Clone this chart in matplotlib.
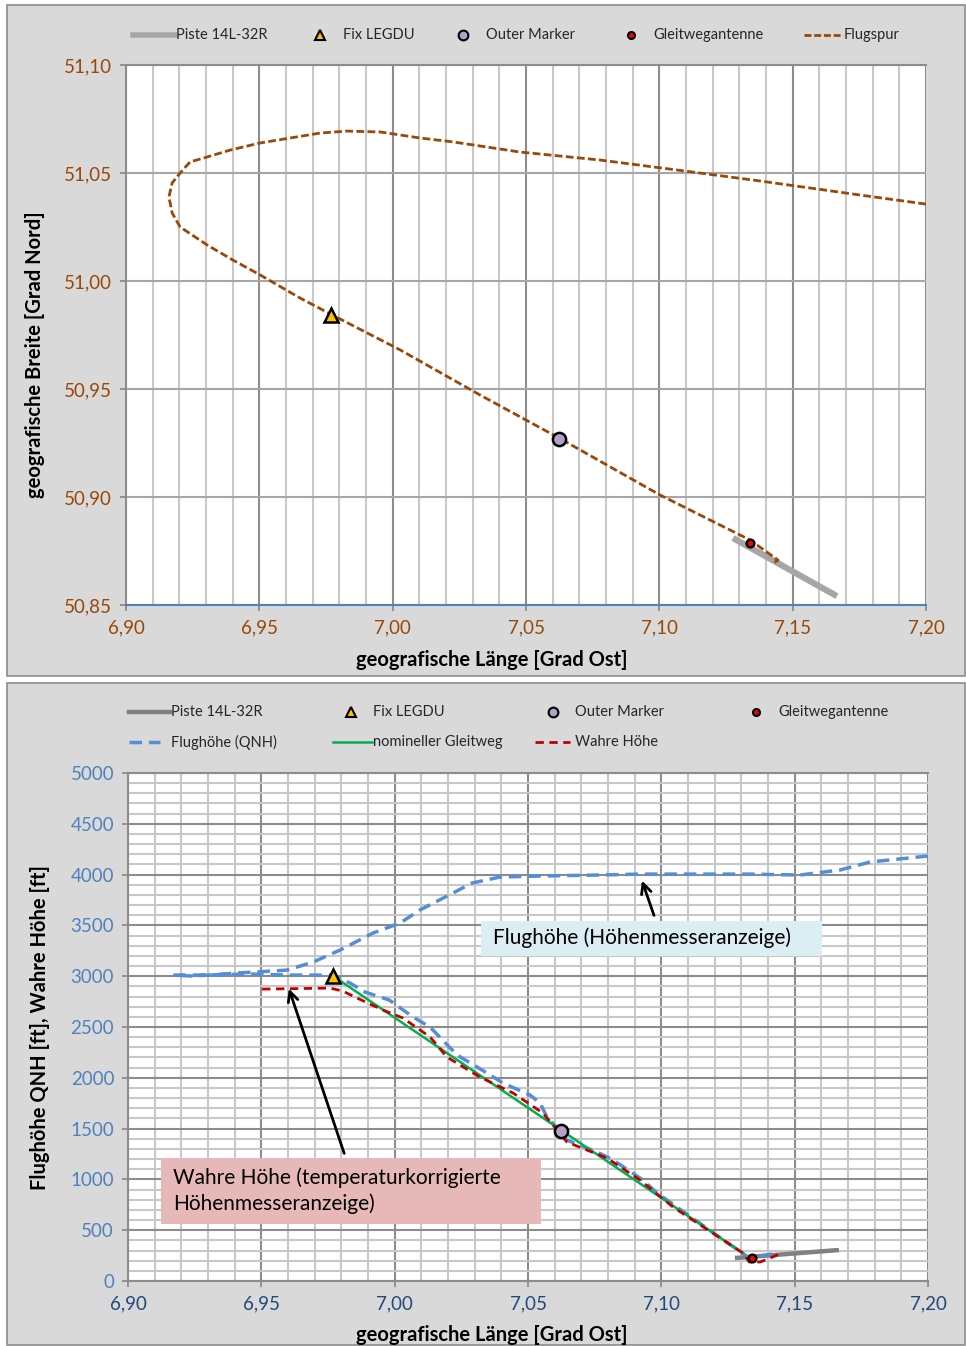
import numpy as np
import matplotlib.pyplot as plt
from matplotlib.lines import Line2D
from matplotlib.patches import Rectangle
from matplotlib.ticker import MultipleLocator, FuncFormatter

plt.rcParams['font.family'] = ['Lato', 'DejaVu Sans']

# --- data -------------------------------------------------------------
# flight track (time order, from the east)
track_lon = [7.2000, 7.1753, 7.1378, 7.1078, 7.0778, 7.0478, 7.0226, 7.0103,
             6.9953, 6.9829, 6.9728, 6.9503, 6.9390, 6.9304, 6.9240, 6.9203,
             6.9173, 6.9161, 6.9173, 6.9203, 6.9304, 6.9401, 6.9503, 6.9653,
             6.9773, 7.0028, 7.0328, 7.0624, 7.1003, 7.1340, 7.1445, 7.1423]
track_lat = [51.0356, 51.0398, 51.0463, 51.0512, 51.0560, 51.0597, 51.0644, 51.0662,
             51.0690, 51.0694, 51.0685, 51.0639, 51.0606, 51.0574, 51.0551, 51.0500,
             51.0454, 51.0389, 51.0315, 51.0250, 51.0167, 51.0097, 51.0028, 50.9921,
             50.9843, 50.9681, 50.9472, 50.9273, 50.9009, 50.8801, 50.8708, 50.8690]

# runway 14L-32R
rwy_lon = [7.1276, 7.1666]
rwy_lat = [50.8810, 50.8541]
rwy_alt = [226, 305]

# fixes
fix_lon, fix_lat, fix_alt = 6.977, 50.9843, 3000
om_lon, om_lat, om_alt = 7.0625, 50.9270, 1476
gs_lon, gs_lat, gs_alt = 7.134, 50.8787, 226

# indicated altitude (QNH), time order
qnh_lon = [7.2000, 7.1783, 7.1670, 7.1520, 7.1330, 7.1145, 7.0920, 7.0770,
           7.0545, 7.0395, 7.0290, 7.0219, 7.0095, 7.0020, 6.9919, 6.9795,
           6.9694, 6.9596, 6.9409, 6.9244, 6.9169, 6.9270, 6.9458, 6.9608,
           6.9769, 6.9833, 6.9889, 6.9980, 7.0069, 7.0133, 7.0180, 7.0234,
           7.0346, 7.0406, 7.0508, 7.0545, 7.0571, 7.0609, 7.0646, 7.0759,
           7.0819, 7.0931, 7.0984, 7.1100, 7.1330, 7.1434]
qnh_alt = [4183, 4124, 4045, 3996, 4005, 4005, 4005, 3996,
           3986, 3976, 3917, 3819, 3652, 3523, 3425, 3257,
           3139, 3060, 3031, 3001, 3011, 3011, 3021, 3011,
           3011, 2932, 2844, 2765, 2598, 2499, 2371, 2224,
           2047, 1948, 1830, 1752, 1614, 1506, 1387, 1269,
           1191, 994, 866, 650, 226, 275]

# nominal glide path
gp_lon = [6.977, 7.1306]
gp_alt = [3000, 275]

# true altitude
true_lon = [6.9503, 6.9758, 6.9806, 6.9859, 6.9956, 7.0031, 7.0133, 7.0196,
            7.0320, 7.0444, 7.0556, 7.0609, 7.0646, 7.0721, 7.0796, 7.0920,
            7.1044, 7.1306, 7.1330, 7.1370, 7.1400, 7.1450]
true_alt = [2873, 2883, 2853, 2785, 2667, 2588, 2401, 2204,
            2007, 1850, 1653, 1486, 1368, 1289, 1210, 994,
            728, 275, 187, 187, 216, 275]

# --- styles -------------------------------------------------------------
W, H = 966, 1346
BG = '#d9d9d9'
BROWN = '#984807'
BLUE = '#558ed5'
RED = '#c00000'
GREEN = '#00b050'
TICK_FS = 13.5
LABEL_FS = 14.5


def fx(x):
    return x / W


def fy(y):
    return 1 - y / H


fig = plt.figure(figsize=(W / 100, H / 100), dpi=100)
fig.patch.set_facecolor('white')
fig.patches.append(Rectangle((fx(7), fy(676)), fx(958), 671 / H, transform=fig.transFigure,
                             facecolor=BG, edgecolor='#8c8c8c', lw=1.2, zorder=-10))
fig.patches.append(Rectangle((fx(7), fy(1345)), fx(958), 662 / H, transform=fig.transFigure,
                             facecolor=BG, edgecolor='#8c8c8c', lw=1.2, zorder=-10))

comma = FuncFormatter(lambda v, p: f'{v:.2f}'.replace('.', ','))

# --- top: ground track ------------------------------------------------------
ax1 = fig.add_axes([fx(126), fy(605), 800 / W, 540 / H])
ax1.set_facecolor('white')
ax1.set_xlim(6.90, 7.20)
ax1.set_ylim(50.85, 51.10)
ax1.xaxis.set_major_locator(MultipleLocator(0.05))
ax1.xaxis.set_minor_locator(MultipleLocator(0.01))
ax1.yaxis.set_major_locator(MultipleLocator(0.05))
ax1.xaxis.set_major_formatter(comma)
ax1.yaxis.set_major_formatter(comma)
ax1.grid(which='minor', axis='x', color='#c8c8c8', lw=1.5)
ax1.grid(which='major', axis='x', color='#8c8c8c', lw=1.5)
ax1.grid(which='major', axis='y', color='#a6a6a6', lw=1.5)
ax1.set_axisbelow(True)
ax1.tick_params(which='minor', length=0)
ax1.tick_params(which='major', direction='out', length=4, width=1.2, color='#868686',
                labelsize=TICK_FS, labelcolor=BROWN, pad=6)
for s in ['top', 'right', 'left']:
    ax1.spines[s].set_color('#8c8c8c')
    ax1.spines[s].set_linewidth(1.5)
ax1.spines['right'].set_visible(False)
ax1.spines['bottom'].set_color('#4f81bd')
ax1.spines['bottom'].set_linewidth(1.5)

ax1.plot(rwy_lon, rwy_lat, color='#a6a6a6', lw=4.5, solid_capstyle='butt', zorder=3)
ax1.plot(track_lon, track_lat, color=BROWN, lw=2.0, dashes=(2.8, 1.2), zorder=4)
ax1.plot(fix_lon, fix_lat, marker='^', ms=10, mfc='#ffc000', mec='black', mew=1.8, zorder=5)
ax1.plot(om_lon, om_lat, marker='o', ms=9.5, mfc='#b3a2c7', mec='black', mew=1.8, zorder=5)
ax1.plot(gs_lon, gs_lat, marker='o', ms=5.5, mfc='#ff0000', mec='black', mew=1.8, zorder=5)

ax1.set_xlabel('geografische Länge [Grad Ost]', fontsize=LABEL_FS, fontweight='bold', va='center')
ax1.xaxis.set_label_coords((492 - 126) / 800, (605 - 660) / 540)
ax1.set_ylabel('geografische Breite [Grad Nord]', fontsize=LABEL_FS, fontweight='bold', va='center')
ax1.yaxis.set_label_coords((35 - 126) / 800, (605 - 355) / 540)

# --- bottom: altitude profile ----------------------------------------------
ax2 = fig.add_axes([fx(128), fy(1281), 800 / W, 508 / H])
ax2.set_facecolor('white')
ax2.set_xlim(6.90, 7.20)
ax2.set_ylim(0, 5000)
ax2.xaxis.set_major_locator(MultipleLocator(0.05))
ax2.xaxis.set_minor_locator(MultipleLocator(0.01))
ax2.yaxis.set_major_locator(MultipleLocator(500))
ax2.yaxis.set_minor_locator(MultipleLocator(100))
ax2.xaxis.set_major_formatter(comma)
ax2.grid(which='minor', color='#c8c8c8', lw=1.5)
ax2.grid(which='major', color='#8c8c8c', lw=1.5)
ax2.set_axisbelow(True)
ax2.tick_params(which='minor', length=0)
ax2.tick_params(which='major', direction='out', length=4, width=1.2, color='#868686',
                labelsize=TICK_FS, pad=6)
ax2.tick_params(axis='y', labelcolor='#4f81bd')
ax2.tick_params(axis='x', labelcolor='#1f497d')
for s in ax2.spines.values():
    s.set_color('#8c8c8c')
    s.set_linewidth(1.5)
ax2.spines['right'].set_visible(False)

ax2.plot(rwy_lon, rwy_alt, color='#808080', lw=3.2, solid_capstyle='butt', zorder=3)
ax2.plot(qnh_lon, qnh_alt, color=BLUE, lw=2.5, dashes=(3.6, 2.0), zorder=4)
ax2.plot(gp_lon, gp_alt, color=GREEN, lw=1.8, zorder=5)
ax2.plot(true_lon, true_alt, color=RED, lw=2.0, dashes=(3.0, 2.0), zorder=6)
ax2.plot(fix_lon, fix_alt, marker='^', ms=10, mfc='#ffc000', mec='black', mew=1.8, zorder=7)
ax2.plot(om_lon, om_alt, marker='o', ms=9.5, mfc='#b3a2c7', mec='black', mew=1.8, zorder=7)
ax2.plot(gs_lon, gs_alt, marker='o', ms=5.5, mfc='#ff0000', mec='black', mew=1.8, zorder=7)

ax2.set_xlabel('geografische Länge [Grad Ost]', fontsize=LABEL_FS, fontweight='bold', va='center')
ax2.xaxis.set_label_coords((492 - 128) / 800, (1281 - 1335) / 508)
ax2.set_ylabel('Flughöhe QNH [ft], Wahre Höhe [ft]', fontsize=LABEL_FS, fontweight='bold', va='center')
ax2.yaxis.set_label_coords((40 - 128) / 800, (1281 - 1028) / 508)

# annotation boxes
ax2.add_patch(Rectangle((7.0324, 3198), 0.1279, 345, facecolor='#dbeef4', edgecolor='none', zorder=8))
ax2.text(7.0369, 3375, 'Flughöhe (Höhenmesseranzeige)', fontsize=15, va='center', zorder=9)
ax2.annotate('', xy=(7.0924, 3966), xytext=(7.0976, 3572),
             arrowprops=dict(arrowstyle='->', color='black', lw=2, mutation_scale=18), zorder=9)

ax2.add_patch(Rectangle((6.9124, 561), 0.1425, 649, facecolor='#e6b9b8', edgecolor='none', zorder=8))
ax2.text(6.9169, 1020, 'Wahre Höhe (temperaturkorrigierte', fontsize=15, va='center', zorder=9)
ax2.text(6.9169, 765, 'Höhenmesseranzeige)', fontsize=15, va='center', zorder=9)
ax2.annotate('', xy=(6.9600, 2903), xytext=(6.9814, 1230),
             arrowprops=dict(arrowstyle='->', color='black', lw=2, mutation_scale=18), zorder=9)


# --- legends (drawn in figure pixels) ----------------------------------------
def leg_line(x0, x1, y, **kw):
    fig.add_artist(Line2D([fx(x0), fx(x1)], [fy(y), fy(y)], transform=fig.transFigure, **kw))


def leg_marker(x, y, **kw):
    fig.add_artist(Line2D([fx(x)], [fy(y)], transform=fig.transFigure, ls='none', **kw))


def leg_text(x, y, s):
    fig.text(fx(x), fy(y), s, fontsize=10.5, va='center', ha='left', color='#262626')


tri = dict(marker='^', ms=7, mfc='#ffc000', mec='black', mew=1.5)
om = dict(marker='o', ms=7, mfc='#b3a2c7', mec='black', mew=1.5)
gs = dict(marker='o', ms=5, mfc='#ff0000', mec='black', mew=1.5)

y = 35
leg_line(133, 175, y, color='#a6a6a6', lw=4)
leg_text(176, y, 'Piste 14L-32R')
leg_marker(320, y, **tri)
leg_text(343, y, 'Fix LEGDU')
leg_marker(463, y, **om)
leg_text(486, y, 'Outer Marker')
leg_marker(631, y, **gs)
leg_text(653, y, 'Gleitwegantenne')
leg_line(804, 843, y, color=BROWN, lw=2.0, dashes=(2.5, 1.0))
leg_text(844, y, 'Flugspur')

y = 712
leg_line(129, 170, y, color='#808080', lw=3.2)
leg_text(171, y, 'Piste 14L-32R')
leg_marker(351, y, **tri)
leg_text(373, y, 'Fix LEGDU')
leg_marker(553, y, **om)
leg_text(575, y, 'Outer Marker')
leg_marker(756, y, **gs)
leg_text(778, y, 'Gleitwegantenne')
y = 742
leg_line(129, 160, y, color=BLUE, lw=2.5, dashes=(3.6, 2.0))
leg_text(171, y, 'Flughöhe (QNH)')
leg_line(333, 372, y, color=GREEN, lw=1.8)
leg_text(373, y, 'nomineller Gleitweg')
leg_line(535, 570, y, color=RED, lw=2.0, dashes=(3.0, 2.0))
leg_text(575, y, 'Wahre Höhe')

plt.savefig('out.png', dpi=100)
